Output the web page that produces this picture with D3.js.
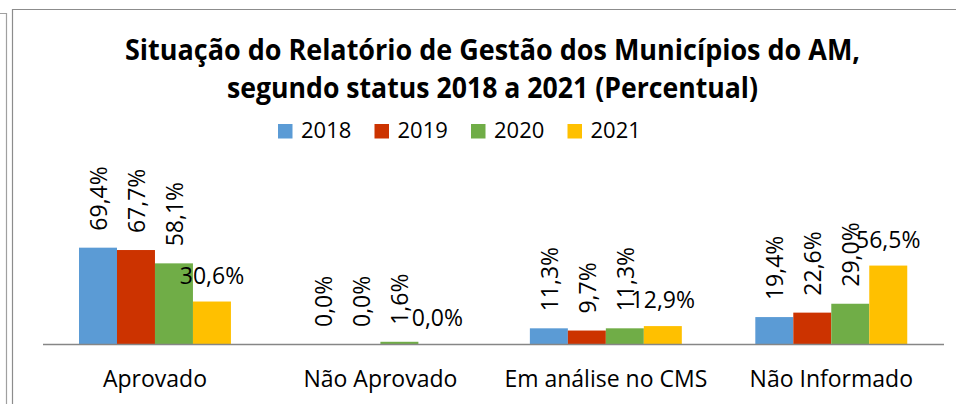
<!DOCTYPE html>
<html>
<head>
<meta charset="utf-8">
<script src="https://cdn.jsdelivr.net/npm/d3@7"></script>
<style>
  body { margin: 0; background: #fff; }
  svg { display: block; font-family: "Open Sans", "Noto Sans", sans-serif; }
</style>
</head>
<body>
<svg id="chart" width="956" height="404"></svg>
<script>
// data
const categories = ["Aprovado", "Não Aprovado", "Em análise no CMS", "Não Informado"];
const years = ["2018", "2019", "2020", "2021"];
const v2018 = [69.4, 0.0, 11.3, 19.4];
const v2019 = [67.7, 0.0, 9.7, 22.6];
const v2020 = [58.1, 1.6, 11.3, 29.0];
const v2021 = [30.6, 0.0, 12.9, 56.5];
const seriesValues = [v2018, v2019, v2020, v2021];
const colours = ["#5b9bd5", "#cc3300", "#70ad47", "#ffc000"];

const svg = d3.select("#chart");
const ptBR = d3.formatLocale({ decimal: ",", thousands: ".", grouping: [3], currency: ["R$", ""] });
const fmt = (v) => ptBR.format(".1f")(v) + "%";

// outer frames (screenshot of a document)
svg.append("path")
  .attr("d", "M0,13.5H6.5V404")
  .attr("fill", "none").attr("stroke", "#a0a0a0").attr("stroke-width", 1.2);
svg.append("path")
  .attr("d", "M12.5,404V9.5H956")
  .attr("fill", "none").attr("stroke", "#8c8c8c").attr("stroke-width", 1.2);

// title, squeezed to the width of the original
const titleLines = [
  { text: "Situação do Relatório de Gestão dos Municípios do AM,", y: 60, w: 735 },
  { text: "segundo status 2018 a 2021 (Percentual)", y: 98, w: 531 },
];
svg.selectAll(".title")
  .data(titleLines)
  .join("text")
  .attr("class", "title")
  .attr("x", 492.5)
  .attr("y", (d) => d.y)
  .attr("text-anchor", "middle")
  .style("font-size", "28px")
  .style("font-weight", "bold")
  .attr("fill", "#000")
  .text((d) => d.text)
  .attr("textLength", (d) => d.w)
  .attr("lengthAdjust", "spacingAndGlyphs");

// scales
const x0 = d3.scaleBand()
  .domain(categories)
  .range([42.25, 944])
  .paddingInner(0.326)
  .paddingOuter(0.163);
const x1 = d3.scaleBand().domain(years).range([0, x0.bandwidth()]);
const y = d3.scaleLinear().domain([0, 80]).range([344, 344 - 111.04]);
const colour = d3.scaleOrdinal().domain(years).range(colours);

// legend
const legend = svg.append("g").attr("transform", "translate(278,124)");
const item = legend.selectAll("g")
  .data(years)
  .join("g")
  .attr("transform", (d, i) => `translate(${i * 96.5},0)`);
item.append("rect")
  .attr("width", 14.5).attr("height", 14.5)
  .attr("fill", (d) => colour(d));
item.append("text")
  .attr("x", 23).attr("y", 14.3)
  .style("font-size", "22px")
  .attr("fill", "#000")
  .text((d) => d);

// bars
const rows = [];
categories.forEach((c, ci) => {
  years.forEach((yr, si) => rows.push({ cat: c, year: yr, si, value: seriesValues[si][ci] }));
});

const plot = svg.append("g");
plot.selectAll(".bar")
  .data(rows)
  .join("rect")
  .attr("class", "bar")
  .attr("x", (d) => x0(d.cat) + x1(d.year))
  .attr("y", (d) => y(d.value))
  .attr("width", x1.bandwidth())
  .attr("height", (d) => y(0) - y(d.value))
  .attr("fill", (d) => colour(d.year));

// axis
const axis = svg.append("g")
  .attr("transform", `translate(0,${y(0)})`)
  .call(d3.axisBottom(x0).tickSize(0).tickSizeOuter(0).tickPadding(27));
axis.select(".domain").attr("stroke", "#868686").attr("stroke-width", 1.3)
  .attr("d", `M${x0.range()[0] + 0.75},0.5H${x0.range()[1]}`);
axis.selectAll("text")
  .style("font-size", "23px")
  .style("font-family", "'Open Sans', 'Noto Sans', sans-serif")
  .attr("fill", "#000");

// value labels: first three years turned upright, last year flat
const labels = plot.selectAll(".lbl")
  .data(rows)
  .join("text")
  .attr("class", "lbl")
  .style("font-size", "23px")
  .attr("fill", "#000")
  .text((d) => fmt(d.value));

labels.filter((d) => d.si < 3)
  .attr("text-anchor", "start")
  .attr("dy", "0.35em")
  .attr("transform", (d) => {
    const cx = x0(d.cat) + x1(d.year) + x1.bandwidth() / 2 + 1;
    return `translate(${cx},${y(d.value) - 17}) rotate(-90)`;
  });

labels.filter((d) => d.si === 3)
  .attr("text-anchor", "middle")
  .attr("x", (d) => x0(d.cat) + x1(d.year) + x1.bandwidth() / 2)
  .attr("y", (d) => y(d.value) - 18);
</script>
</body>
</html>
